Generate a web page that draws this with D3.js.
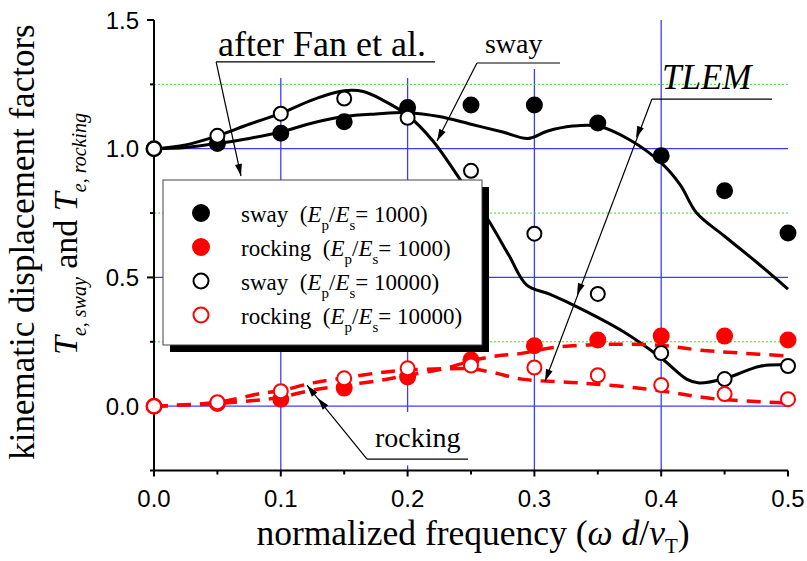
<!DOCTYPE html>
<html>
<head>
<meta charset="utf-8">
<script src="https://cdn.jsdelivr.net/npm/d3@7"></script>
<style>
  body { margin: 0; background: #fff; }
  text { white-space: pre; }
</style>
</head>
<body>
<div id="chart"></div>
<script>
// kinematic displacement factors vs normalized frequency
const width = 807;
const height = 561;

// measured points (Fan et al.)
const freqs = [0, 0.05, 0.1, 0.15, 0.2, 0.25, 0.3, 0.35, 0.4, 0.45, 0.5];
const sway1000 = [1.0, 1.02, 1.06, 1.105, 1.16, 1.17, 1.17, 1.10, 0.973, 0.837, 0.673];
const rocking1000 = [0, 0.01, 0.027, 0.07, 0.113, 0.18, 0.235, 0.257, 0.272, 0.272, 0.257];
const sway10000 = [1.0, 1.05, 1.136, 1.195, 1.12, 0.914, 0.67, 0.436, 0.206, 0.105, 0.156];
const rocking10000 = [0, 0.015, 0.058, 0.108, 0.147, 0.158, 0.15, 0.12, 0.082, 0.047, 0.027];

// TLEM curves [freq, value]
const tlemSway1000 = [[0, 1.0], [0.025, 1.005], [0.05, 1.02], [0.075, 1.04], [0.1, 1.065], [0.125, 1.1],
  [0.15, 1.125], [0.175, 1.135], [0.2, 1.14], [0.225, 1.125], [0.25, 1.095], [0.275, 1.065], [0.295, 1.04],
  [0.31, 1.068], [0.33, 1.088], [0.35, 1.088], [0.375, 1.035], [0.4, 0.945], [0.415, 0.86], [0.428, 0.75],
  [0.45, 0.66], [0.475, 0.56], [0.5, 0.455]];
const tlemSway10000 = [[0, 1.0], [0.025, 1.015], [0.05, 1.05], [0.075, 1.095], [0.1, 1.137], [0.125, 1.19],
  [0.15, 1.225], [0.165, 1.222], [0.18, 1.19], [0.2, 1.13], [0.22, 1.03], [0.2415, 0.88], [0.263, 0.728],
  [0.28, 0.585], [0.294, 0.47], [0.312, 0.435], [0.336, 0.38], [0.37, 0.29], [0.4, 0.187], [0.42, 0.105],
  [0.43, 0.09], [0.452, 0.11], [0.478, 0.155], [0.5, 0.16]];
const tlemRocking1000 = [[0, 0], [0.05, 0.01], [0.085, 0.025], [0.1, 0.035], [0.125, 0.062], [0.15, 0.08],
  [0.178, 0.1], [0.2, 0.12], [0.228, 0.145], [0.25, 0.175], [0.27, 0.195], [0.29, 0.205], [0.315, 0.228],
  [0.36, 0.24], [0.4, 0.236], [0.43, 0.218], [0.46, 0.207], [0.5, 0.195]];
const tlemRocking10000 = [[0, 0], [0.05, 0.015], [0.085, 0.05], [0.1, 0.06], [0.125, 0.09], [0.15, 0.11],
  [0.178, 0.13], [0.2, 0.14], [0.228, 0.145], [0.25, 0.145], [0.268, 0.13], [0.29, 0.105], [0.336, 0.09],
  [0.39, 0.066], [0.44, 0.03], [0.5, 0.012]];

const xTicks = [0, 0.1, 0.2, 0.3, 0.4, 0.5];
const yTicks = [0, 0.5, 1.0, 1.5];
const yMinor = [-0.25, 0.25, 0.75, 1.25];
const xMinor = [0.05, 0.15, 0.25, 0.35, 0.45];

const legendNames = ["sway", "rocking", "sway", "rocking"];
const legendRatios = ["1000", "1000", "10000", "10000"];

const serif = "'Liberation Serif', 'Times New Roman', serif";
const sans = "'Liberation Sans', Arial, sans-serif";

const x = d3.scaleLinear().domain([0, 0.5]).range([154, 788]);
const y = d3.scaleLinear().domain([-0.25, 1.5]).range([470.5, 20]);

const svg = d3.select("#chart").append("svg")
    .attr("width", width)
    .attr("height", height)
    .style("background", "#fff");

// grid
const grid = svg.append("g");
grid.selectAll("line.v").data([0.1, 0.2, 0.3, 0.4]).enter().append("line")
    .attr("x1", d => x(d)).attr("x2", d => x(d))
    .attr("y1", y(1.5)).attr("y2", y(-0.25))
    .attr("stroke", "#3c3cff").attr("stroke-width", 1.3);
grid.selectAll("line.h").data([0, 0.5, 1.0]).enter().append("line")
    .attr("x1", x(0)).attr("x2", x(0.5))
    .attr("y1", d => y(d)).attr("y2", d => y(d))
    .attr("stroke", "#3c3cff").attr("stroke-width", 1.3);
grid.selectAll("line.g").data([0.25, 0.75, 1.25]).enter().append("line")
    .attr("x1", x(0)).attr("x2", x(0.5))
    .attr("y1", d => y(d)).attr("y2", d => y(d))
    .attr("stroke", "#33dd33").attr("stroke-width", 1)
    .attr("stroke-dasharray", "2,2");

// white label backgrounds that hide the grid
const boxes = [[0.04, 1.5, 0.226, 1.275], [0.254, 1.5, 0.322, 1.31], [0.167, -0.023, 0.25, -0.23]];
svg.append("g").selectAll("rect").data(boxes).enter().append("rect")
    .attr("x", d => x(d[0])).attr("y", d => y(d[1]))
    .attr("width", d => x(d[2]) - x(d[0])).attr("height", d => y(d[3]) - y(d[1]))
    .attr("fill", "#fff");

// axes
const axes = svg.append("g").attr("stroke", "#000").attr("stroke-width", 2);
axes.append("line").attr("x1", x(0)).attr("x2", x(0)).attr("y1", y(1.5)).attr("y2", y(-0.25) + 1);
axes.append("line").attr("x1", x(0) - 1).attr("x2", x(0.5)).attr("y1", y(-0.25)).attr("y2", y(-0.25));
axes.selectAll("line.xt").data(xTicks).enter().append("line")
    .attr("x1", d => x(d)).attr("x2", d => x(d)).attr("y1", y(-0.25)).attr("y2", y(-0.25) + 6);
axes.selectAll("line.xm").data(xMinor).enter().append("line")
    .attr("x1", d => x(d)).attr("x2", d => x(d)).attr("y1", y(-0.25)).attr("y2", y(-0.25) + 4);
axes.selectAll("line.yt").data(yTicks).enter().append("line")
    .attr("x1", x(0) - 7).attr("x2", x(0)).attr("y1", d => y(d)).attr("y2", d => y(d));
axes.selectAll("line.ym").data(yMinor).enter().append("line")
    .attr("x1", x(0) - 4).attr("x2", x(0)).attr("y1", d => y(d)).attr("y2", d => y(d));

svg.append("g").selectAll("text").data(xTicks).enter().append("text")
    .attr("x", d => x(d)).attr("y", 507)
    .attr("text-anchor", "middle")
    .style("font-family", sans).style("font-size", "24px")
    .text(d => d.toFixed(1));
svg.append("g").selectAll("text").data(yTicks).enter().append("text")
    .attr("x", 139).attr("y", d => y(d) + 8.5)
    .attr("text-anchor", "end")
    .style("font-family", sans).style("font-size", "24px")
    .text(d => d.toFixed(1));

// TLEM curves
const line = d3.line().x(d => x(d[0])).y(d => y(d[1])).curve(d3.curveCatmullRom.alpha(0.5));
const curves = svg.append("g").attr("fill", "none");
[tlemSway1000, tlemSway10000].forEach(c => {
    curves.append("path").attr("d", line(c))
        .attr("stroke", "#000").attr("stroke-width", 3);
});
[tlemRocking1000, tlemRocking10000].forEach(c => {
    curves.append("path").attr("d", line(c))
        .attr("stroke", "#ff0000").attr("stroke-width", 3.5)
        .attr("stroke-dasharray", "14,9");
});

// measured points
const series = [
    { vals: sway1000, fill: "#000", stroke: "#000", r: 7.5 },
    { vals: rocking1000, fill: "#ff0000", stroke: "#ff0000", r: 7.5 },
    { vals: sway10000, fill: "#fff", stroke: "#000", r: 7 },
    { vals: rocking10000, fill: "#fff", stroke: "#ff0000", r: 7 }
];
series.forEach(s => {
    svg.append("g").selectAll("circle").data(s.vals).enter().append("circle")
        .attr("cx", (d, i) => x(freqs[i])).attr("cy", d => y(d))
        .attr("r", s.r)
        .attr("fill", s.fill).attr("stroke", s.stroke).attr("stroke-width", 2);
});

// legend with drop shadow
const lg = svg.append("g").attr("transform", "translate(163,180)");
lg.append("rect").attr("x", 7).attr("y", 7).attr("width", 319).attr("height", 165).attr("fill", "#000");
lg.append("rect").attr("x", 0).attr("y", 0).attr("width", 319).attr("height", 165)
    .attr("fill", "#fff").attr("stroke", "#444").attr("stroke-width", 1);
legendNames.forEach((name, i) => {
    const s = series[i];
    const cy = 33 + i * 34;
    lg.append("circle").attr("cx", 38).attr("cy", cy)
        .attr("r", s.r + 0.5).attr("fill", s.fill).attr("stroke", s.stroke).attr("stroke-width", 2);
    const t = lg.append("text").attr("x", 78).attr("y", cy + 9)
        .style("font-family", serif).style("font-size", "23px");
    t.append("tspan").text(name + "  (");
    t.append("tspan").style("font-style", "italic").text("E");
    t.append("tspan").attr("dy", 8).style("font-size", "15px").text("p");
    t.append("tspan").attr("dy", -8).text("/");
    t.append("tspan").style("font-style", "italic").text("E");
    t.append("tspan").attr("dy", 8).style("font-size", "15px").text("s");
    t.append("tspan").attr("dy", -8).text("= " + legendRatios[i] + ")");
});

// annotations
const ann = svg.append("g").attr("stroke", "#000").attr("stroke-width", 1.2);
function arrowHead(tip, from) {
    const a = Math.atan2(tip[1] - from[1], tip[0] - from[0]);
    const L = 12, w = 3.5;
    const p1 = [tip[0] - L * Math.cos(a) + w * Math.sin(a), tip[1] - L * Math.sin(a) - w * Math.cos(a)];
    const p2 = [tip[0] - L * Math.cos(a) - w * Math.sin(a), tip[1] - L * Math.sin(a) + w * Math.cos(a)];
    svg.append("path").attr("d", "M" + tip + "L" + p1 + "L" + p2 + "Z").attr("fill", "#000");
}
const P = d => [x(d[0]), y(d[1])];
const annotations = [
    { under: [[0.049, 1.337], [0.2216, 1.337]], start: [0.049, 1.337], heads: [[0.0686, 0.894]] },
    { under: [[0.2547, 1.333], [0.3202, 1.333]], start: [0.2547, 1.333], heads: [[0.2232, 1.03]] },
    { under: [[0.3927, 1.193], [0.4874, 1.193]], start: [0.3927, 1.193], heads: [[0.3801, 1.041], [0.3336, 0.431], [0.3084, 0.097]] },
    { under: [[0.168, -0.206], [0.2476, -0.206]], start: [0.168, -0.206], heads: [[0.1293, 0.031], [0.1207, 0.081]] }
];
annotations.forEach(a => {
    ann.append("line").attr("x1", P(a.under[0])[0]).attr("y1", P(a.under[0])[1])
        .attr("x2", P(a.under[1])[0]).attr("y2", P(a.under[1])[1]);
    const last = a.heads[a.heads.length - 1];
    ann.append("line").attr("x1", P(a.start)[0]).attr("y1", P(a.start)[1])
        .attr("x2", P(last)[0]).attr("y2", P(last)[1]);
    a.heads.forEach(h => arrowHead(P(h), P(a.start)));
});
const labels = [
    { text: "after Fan et al.", at: [0.0505, 1.36], size: 36, italic: false },
    { text: "sway", at: [0.261, 1.372], size: 28, italic: false },
    { text: "TLEM", at: [0.4006, 1.232], size: 35, italic: true },
    { text: "rocking", at: [0.1743, -0.16], size: 28, italic: false }
];
svg.append("g").selectAll("text").data(labels).enter().append("text")
    .attr("x", d => x(d.at[0])).attr("y", d => y(d.at[1]))
    .style("font-family", serif).style("font-size", d => d.size + "px")
    .style("font-style", d => d.italic ? "italic" : "normal")
    .text(d => d.text);

// axis titles
const xt = svg.append("text").attr("x", 473).attr("y", 545).attr("text-anchor", "middle")
    .style("font-family", serif).style("font-size", "35.5px");
xt.append("tspan").text("normalized frequency (");
xt.append("tspan").style("font-style", "italic").text("ω d");
xt.append("tspan").text("/");
xt.append("tspan").style("font-style", "italic").text("v");
xt.append("tspan").attr("dy", 8).style("font-size", "21px").text("T");
xt.append("tspan").attr("dy", -8).text(")");

svg.append("text").attr("transform", "translate(34,242) rotate(-90)")
    .attr("text-anchor", "middle")
    .style("font-family", serif).style("font-size", "35px")
    .text("kinematic displacement factors");

const yt = svg.append("text").attr("transform", "translate(77,234) rotate(-90)")
    .attr("text-anchor", "middle")
    .style("font-family", serif).style("font-size", "34px");
yt.append("tspan").style("font-style", "italic").text("T");
yt.append("tspan").attr("dy", 9).style("font-style", "italic").style("font-size", "20px").text("e, sway");
yt.append("tspan").attr("dy", -9).text(" and ");
yt.append("tspan").style("font-style", "italic").text("T");
yt.append("tspan").attr("dy", 9).style("font-style", "italic").style("font-size", "20px").text("e, rocking");
</script>
</body>
</html>
